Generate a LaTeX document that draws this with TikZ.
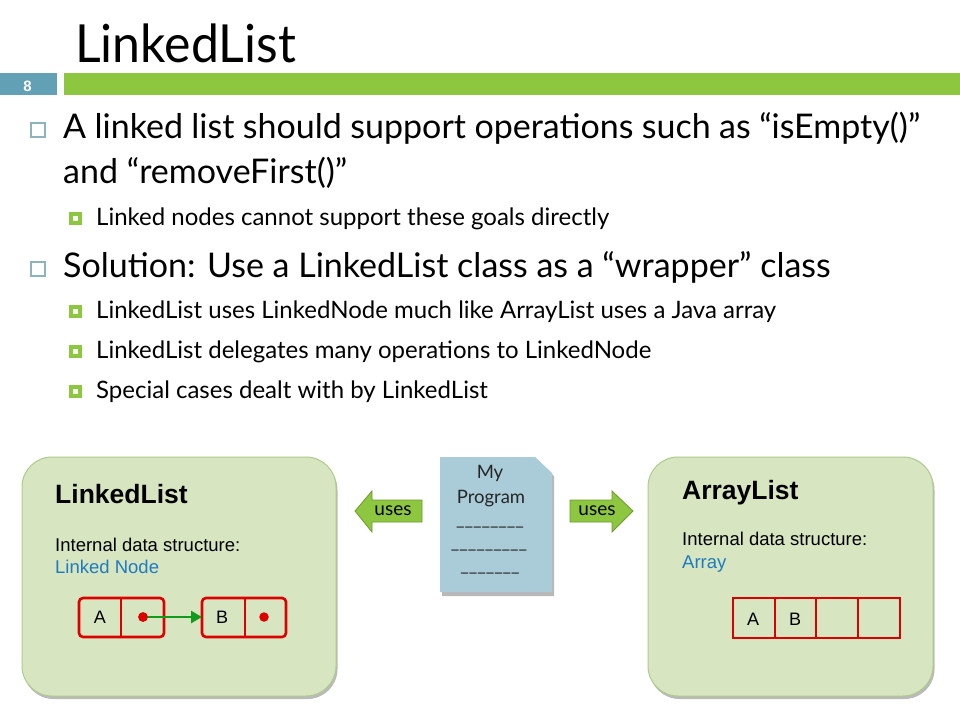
\documentclass[tikz,border=0pt]{standalone}
\usepackage{fontspec}
\setmainfont{Lato}
\newfontfamily\arialf{Liberation Sans}
\usetikzlibrary{shadows,arrows.meta}
\definecolor{barGreen}{HTML}{8DC63F}
\definecolor{numTeal}{HTML}{62A0B6}
\definecolor{bulTeal}{HTML}{8DB2C0}
\definecolor{boxFill}{HTML}{D7E6C1}
\definecolor{boxLine}{HTML}{AFCB8A}
\definecolor{docFill}{HTML}{A9CCD8}
\definecolor{nodeRed}{HTML}{DD0000}
\definecolor{linkBlue}{HTML}{1F7BC0}
\definecolor{arrGreen}{HTML}{119A1B}
\definecolor{usesLine}{HTML}{6E9A30}
\tikzset{
  bigbox/.style={draw=boxLine, line width=1pt, fill=boxFill, rounded corners=30pt,
     drop shadow={opacity=0.45, shadow xshift=1.5pt, shadow yshift=-3pt, fill=black!60}},
  lbl/.style={inner sep=0pt, anchor=base west},
  redcell/.style={draw=nodeRed, line width=2.6pt, rounded corners=4pt},
  arraycell/.style={draw=nodeRed, line width=2.6pt},
  dotred/.style={circle, fill=nodeRed, inner sep=0pt, minimum size=9.5pt},
  usesarrow/.style={fill=barGreen, draw=usesLine, line width=0.8pt},
  hollowbul/.style={draw=bulTeal, line width=1.6pt, fill=white},
  subbul/.style={draw=barGreen, line width=4pt, fill=white!80!boxFill},
  lvlone/.style={lbl, font=\fontsize{34}{38}\selectfont},
  lvltwo/.style={lbl, font=\fontsize{24}{28}\selectfont},
  doctext/.style={inner sep=0pt, anchor=base, text=black!85, font=\fontsize{18.5}{20}\selectfont},
  boxtext/.style={lbl, font=\arialf\fontsize{18.5}{21}\selectfont},
  boxtitle/.style={lbl, font=\arialf\bfseries\fontsize{26.5}{30}\selectfont},
}
\begin{document}
\begin{tikzpicture}[x=1pt,y=-1pt]
\useasboundingbox (0,0) rectangle (960,720);
\fill[white] (0,0) rectangle (960,720);
% title
\node[lbl] (title) at (75,62) {\scalebox{1}[1.05]{\fontsize{50}{54}\selectfont LinkedList}};
% number and bar
\fill[numTeal] (0,73) rectangle (57,95);
\node[inner sep=0pt, text=white] (num) at (27.5,86) {\arialf\bfseries\fontsize{15}{15}\selectfont 8};
\fill[barGreen] (64,73) rectangle (960,95);
% level 1 bullets
\draw[hollowbul] (31,123) rectangle (45,137);
\node[lvlone] (b1a) at (63,138) {\makebox[857pt][s]{A linked list should support operations such as “isEmpty()”}};
\node[lvlone] (b1b) at (63,183) {and “removeFirst()”};
\draw[subbul] (71,214) rectangle (80,223);
\node[lvltwo] (s1) at (96,225) {Linked nodes cannot support these goals directly};
\draw[hollowbul] (31,262) rectangle (45,276);
\node[lvlone] (b2) at (63,277) {Solution: Use a LinkedList class as a “wrapper” class};
\draw[subbul] (71,307) rectangle (80,316);
\node[lvltwo] (s2) at (96,318) {LinkedList uses LinkedNode much like ArrayList uses a Java array};
\draw[subbul] (71,347) rectangle (80,356);
\node[lvltwo] (s3) at (96,358) {LinkedList delegates many operations to LinkedNode};
\draw[subbul] (71,387) rectangle (80,396);
\node[lvltwo] (s4) at (96,398) {Special cases dealt with by LinkedList};
% left box
\draw[bigbox] (22,457) rectangle (336,696);
\node[boxtitle] (llt) at (55,503) {LinkedList};
\node[boxtext] (lli) at (55,551) {Internal data structure:};
\node[boxtext, text=linkBlue] (lln) at (55,573) {Linked Node};
\draw[redcell] (79,598) rectangle (164,637);
\draw[nodeRed, line width=2.6pt] (121,598) -- (121,637);
\node[inner sep=0pt] (na) at (100,617) {\arialf\fontsize{18}{20}\selectfont A};
\node[dotred] (da) at (143,617) {};
\draw[redcell] (202,598) rectangle (286,637);
\draw[nodeRed, line width=2.6pt] (245,598) -- (245,637);
\coordinate (nbl) at (202,617);
\node[inner sep=0pt] (nb) at (222,617) {\arialf\fontsize{18}{20}\selectfont B};
\node[dotred] (db) at (264,617) {};
\draw[arrGreen, line width=2.6pt, -{Triangle[length=11pt,width=12pt]}] (da.center) -- (nbl);
\node[dotred] at (143,617) {};
% right box
\draw[bigbox] (648,457) rectangle (933,696);
\node[boxtitle] (alt) at (682,499) {ArrayList};
\node[boxtext] (ali) at (682,545) {Internal data structure:};
\node[boxtext, text=linkBlue] (ala) at (682,568) {Array};
\draw[arraycell] (733,598) rectangle (900,638);
\draw[nodeRed, line width=2.6pt] (775,598) -- (775,638) (816,598) -- (816,638) (858,598) -- (858,638);
\node[inner sep=0pt] (aa) at (753,619) {\arialf\fontsize{18}{20}\selectfont A};
\node[inner sep=0pt] (ab) at (795,619) {\arialf\fontsize{18}{20}\selectfont B};
% document
\fill[black!55, opacity=0.5] (442,460) -- (537,460) -- (554,476) -- (554,596) -- (442,596) -- cycle;
\fill[docFill] (440,457) -- (535,457) -- (552,473) -- (552,592) -- (440,592) -- cycle;
\node[doctext] (my) at (490,478) {My};
\node[doctext] (prog) at (491,503) {Program};
\node[doctext] (l1) at (490,525) {\_\_\_\_\_\_\_\_};
\node[doctext] (l2) at (489,548) {\_\_\_\_\_\_\_\_\_};
\node[doctext] (l3) at (490,571) {\_\_\_\_\_\_\_};
% uses arrows
\draw[usesarrow] (355,511) -- (372,491) -- (372,500) -- (422,500) -- (422,522) -- (372,522) -- (372,532) -- cycle;
\node[inner sep=0pt] (usesL) at (393,511) {\fontsize{19}{20}\selectfont uses};
\draw[usesarrow] (633,511) -- (612,491) -- (612,500) -- (570,500) -- (570,522) -- (612,522) -- (612,532) -- cycle;
\node[inner sep=0pt] (usesR) at (597,511) {\fontsize{19}{20}\selectfont uses};
\end{tikzpicture}
\end{document}
